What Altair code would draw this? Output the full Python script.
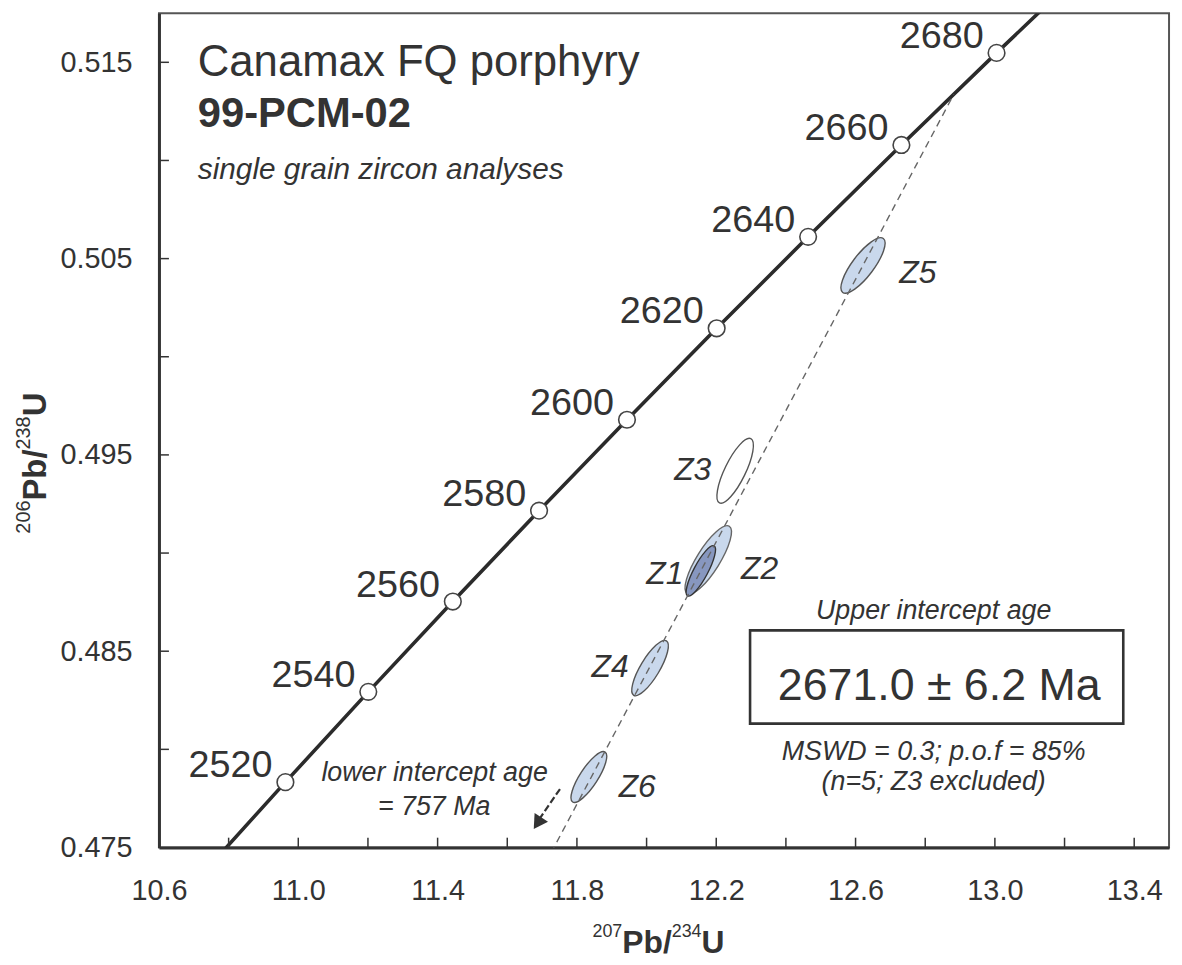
import altair as alt
import pandas as pd

# ---------------- data ----------------
X_DOMAIN = [10.6, 13.5]
Y_DOMAIN = [0.475, 0.5175]
x_labels = [10.6, 11.0, 11.4, 11.8, 12.2, 12.6, 13.0, 13.4]
x_ticks = [10.8, 11.0, 11.2, 11.4, 11.6, 11.8, 12.0, 12.2, 12.4, 12.6, 12.8, 13.0, 13.2, 13.4]
y_labels = [0.475, 0.485, 0.495, 0.505, 0.515]
y_ticks = [0.480, 0.485, 0.490, 0.495, 0.500, 0.505, 0.510, 0.515]

# concordia: age (Ma), 207Pb/235U, 206Pb/238U
conc_age = [2500, 2520, 2540, 2560, 2580, 2600, 2620, 2640, 2660, 2680, 2700]
conc_x = [10.7297, 10.9630, 11.2010, 11.4437, 11.6913, 11.9437, 12.2012, 12.4638, 12.7316, 13.0048, 13.2834]
conc_y = [0.47375, 0.47833, 0.48293, 0.48753, 0.49216, 0.49679, 0.50145, 0.50611, 0.51079, 0.51548, 0.52019]

# zircon analyses (ellipse centres)
zircon = ["Z5", "Z3", "Z2", "Z1", "Z4", "Z6"]
z_x = [12.6214, 12.2543, 12.1771, 12.1557, 12.0100, 11.8343]
z_y = [0.50465, 0.49419, 0.48965, 0.48909, 0.48414, 0.47859]

# discordia (dashed) through the upper intercept
disc_x = [11.71, 12.882]
disc_y = [0.4742, 0.51337]

# zircon labels
zl_text = ["Z5", "Z2", "Z6"]
zl_x = [12.7257, 12.2714, 11.9200]
zl_y = [0.50374, 0.48869, 0.47758]
zr_text = ["Z3", "Z1", "Z4"]
zr_x = [12.1857, 12.1057, 11.9486]
zr_y = [0.49374, 0.48843, 0.48369]

# ---------------- style ----------------
FONT = "Liberation Sans"
INK = "#333333"
ell_len = [68, 72, 80, 57, 64, 60]          # major axis, px
ell_ratio = [0.32, 0.29, 0.29, 0.25, 0.30, 0.30]
ell_rot = [37, 26, 32, 28, 31, 33]          # clockwise from vertical
ell_fill = ["#c9d8ec", "#ffffff", "#c9d8ec", "#8797bf", "#c9d8ec", "#c9d8ec"]
ell_stroke = ["#555555", "#555555", "#666666", "#333333", "#555555", "#555555"]


def ellipse_path(r, k=0.5523):
    kr = k * r
    return (f"M0,-1C{kr:.4f},-1,{r},{-k},{r},0C{r},{k},{kr:.4f},1,0,1"
            f"C{-kr:.4f},1,{-r},{k},{-r},0C{-r},{-k},{-kr:.4f},-1,0,-1Z")


xs = alt.Scale(domain=X_DOMAIN, nice=False, zero=False)
ys = alt.Scale(domain=Y_DOMAIN, nice=False, zero=False)

x_axis = alt.Axis(values=x_labels, format=".1f", ticks=False, tickSize=0,
                  labelFontSize=29, labelFont=FONT, labelColor=INK, labelPadding=29,
                  labelFlush=False, labelOverlap=False, grid=False,
                  domainColor="#333333", domainWidth=3)
y_axis = alt.Axis(values=y_labels, format=".3f", ticks=False, tickSize=0,
                  labelFontSize=29, labelFont=FONT, labelColor=INK, labelPadding=27,
                  labelFlush=False, labelOverlap=False, grid=False,
                  domainColor="#333333", domainWidth=3)


def X(f):
    return alt.X(f, type="quantitative", scale=xs, axis=x_axis, title=None)


def Y(f):
    return alt.Y(f, type="quantitative", scale=ys, axis=y_axis, title=None)


conc = pd.DataFrame({"age": conc_age, "x": conc_x, "y": conc_y})
visible = "datum.age >= 2520 && datum.age <= 2680"

line = alt.Chart(conc).mark_line(color="#2b2b2b", strokeWidth=3.6, clip=True).encode(
    x=X("x"), y=Y("y"), order="age:Q",
)

circles = alt.Chart(conc).transform_filter(visible).mark_point(
    shape="circle", filled=True, fill="white", stroke="#444444", strokeWidth=1.6,
    size=280, opacity=1,
).encode(x=X("x"), y=Y("y"))

age_text = alt.Chart(conc).transform_filter(visible).mark_text(
    align="right", baseline="alphabetic", dx=-13, dy=-5, fontSize=38, font=FONT, color=INK,
).encode(x=X("x"), y=Y("y"), text="age:N")

# ticks pointing inward
xt = pd.DataFrame({"t": x_ticks, "y0": [0.475] * len(x_ticks), "y1": [0.4755] * len(x_ticks)})
x_tick_layer = alt.Chart(xt).mark_rule(color="#333333", strokeWidth=1.5).encode(
    x=X("t"), y=Y("y0"), y2="y1:Q")
yt = pd.DataFrame({"t": y_ticks, "x0": [10.6] * len(y_ticks), "x1": [10.6286] * len(y_ticks)})
y_tick_layer = alt.Chart(yt).mark_rule(color="#333333", strokeWidth=1.5).encode(
    y=Y("t"), x=X("x0"), x2="x1:Q")

ell = pd.DataFrame({
    "id": zircon, "x": z_x, "y": z_y,
    "size": [v * v for v in ell_len], "rot": ell_rot,
})
ellipses = alt.Chart(ell).mark_point(filled=True, opacity=1, strokeWidth=1.4).encode(
    x=X("x"), y=Y("y"),
    shape=alt.Shape("id:N", scale=alt.Scale(domain=zircon, range=[ellipse_path(r) for r in ell_ratio]), legend=None),
    fill=alt.Fill("id:N", scale=alt.Scale(domain=zircon, range=ell_fill), legend=None),
    stroke=alt.Stroke("id:N", scale=alt.Scale(domain=zircon, range=ell_stroke), legend=None),
    size=alt.Size("size:Q", scale=None),
    angle=alt.Angle("rot:Q", scale=None),
)

disc = alt.Chart(pd.DataFrame({"x": disc_x, "y": disc_y})).mark_line(
    color="#666666", strokeWidth=1.4, strokeDash=[7, 5], clip=True,
).encode(x=X("x"), y=Y("y"))

zl = alt.Chart(pd.DataFrame({"x": zl_x, "y": zl_y, "t": zl_text})).mark_text(
    align="left", baseline="alphabetic", fontSize=32, fontStyle="italic", font=FONT, color=INK,
).encode(x=X("x"), y=Y("y"), text="t:N")
zr = alt.Chart(pd.DataFrame({"x": zr_x, "y": zr_y, "t": zr_text})).mark_text(
    align="right", baseline="alphabetic", fontSize=32, fontStyle="italic", font=FONT, color=INK,
).encode(x=X("x"), y=Y("y"), text="t:N")


def note(text, x, y, align="left", size=27, style="normal", weight="normal"):
    return alt.Chart(pd.DataFrame({"x": [x], "y": [y], "t": [text]})).mark_text(
        align=align, baseline="alphabetic", fontSize=size, fontStyle=style,
        fontWeight=weight, font=FONT, color=INK,
    ).encode(x=X("x"), y=Y("y"), text="t:N")


notes = [
    note("Canamax FQ porphyry", 10.7114, 0.51429, size=44),
    note("99-PCM-02", 10.7114, 0.51172, size=42, weight="bold"),
    note("single grain zircon analyses", 10.7114, 0.50904, size=30, style="italic"),
    note("Upper intercept age", 12.8243, 0.48662, align="center", style="italic"),
    note("2671.0 ± 6.2 Ma", 12.8400, 0.48253, align="center", size=45),
    note("MSWD = 0.3; p.o.f = 85%", 12.8243, 0.47944, align="center", style="italic"),
    note("(n=5; Z3 excluded)", 12.8243, 0.47793, align="center", style="italic"),
    note("lower intercept age", 11.3914, 0.47838, align="center", style="italic"),
    note("= 757 Ma", 11.3900, 0.47667, align="center", style="italic"),
]

box = alt.Chart(pd.DataFrame({"x": [12.2971], "x2": [13.3686], "y": [0.48131], "y2": [0.48606]})).mark_rect(
    fill="white", fillOpacity=0, stroke="#333333", strokeWidth=2.6,
).encode(x=X("x"), x2="x2:Q", y=Y("y"), y2="y2:Q")

arrow_shaft = alt.Chart(pd.DataFrame({"x": [11.7514], "x2": [11.6900], "y": [0.47798], "y2": [0.47640]})).mark_rule(
    color="#333333", strokeWidth=2.2, strokeDash=[7, 3],
).encode(x=X("x"), x2="x2:Q", y=Y("y"), y2="y2:Q")
arrow_head = alt.Chart(pd.DataFrame({"x": [11.6869], "y": [0.47624]})).mark_point(
    shape="triangle-down", filled=True, color="#333333", size=260, angle=33, opacity=1,
).encode(x=X("x"), y=Y("y"))


# axis titles with true superscripts
def piece(text, px, py, size, weight, angle=0):
    return alt.Chart(pd.DataFrame({"t": [text]})).mark_text(
        align="left", baseline="alphabetic", fontSize=size, fontWeight=weight,
        font=FONT, color=INK, angle=angle,
    ).encode(x=alt.value(px), y=alt.value(py), text="t:N")


titles = [
    piece("207", 436.5, 930, 18, "normal"),
    piece("Pb/", 466.5, 946, 32, "bold"),
    piece("234", 516.3, 930, 18, "normal"),
    piece("U", 546.3, 946, 32, "bold"),
    piece("206", -130, 524, 20, "normal", 270),
    piece("Pb/", -114, 490.6, 33, "bold", 270),
    piece("238", -130, 439.3, 20, "normal", 270),
    piece("U", -114, 405.9, 33, "bold", 270),
]

chart = alt.layer(
    line, x_tick_layer, y_tick_layer, ellipses, disc, circles, age_text, zl, zr,
    box, arrow_shaft, arrow_head, *notes, *titles,
).properties(
    width=1017, height=840,
    autosize=alt.AutoSizeParams(type="none"),
    padding={"left": 152, "top": 2, "right": 5, "bottom": 110},
    background="white",
).configure_view(stroke="#555555", strokeWidth=2)

chart.save("out.html", embed_options={"renderer": "svg", "actions": False})
